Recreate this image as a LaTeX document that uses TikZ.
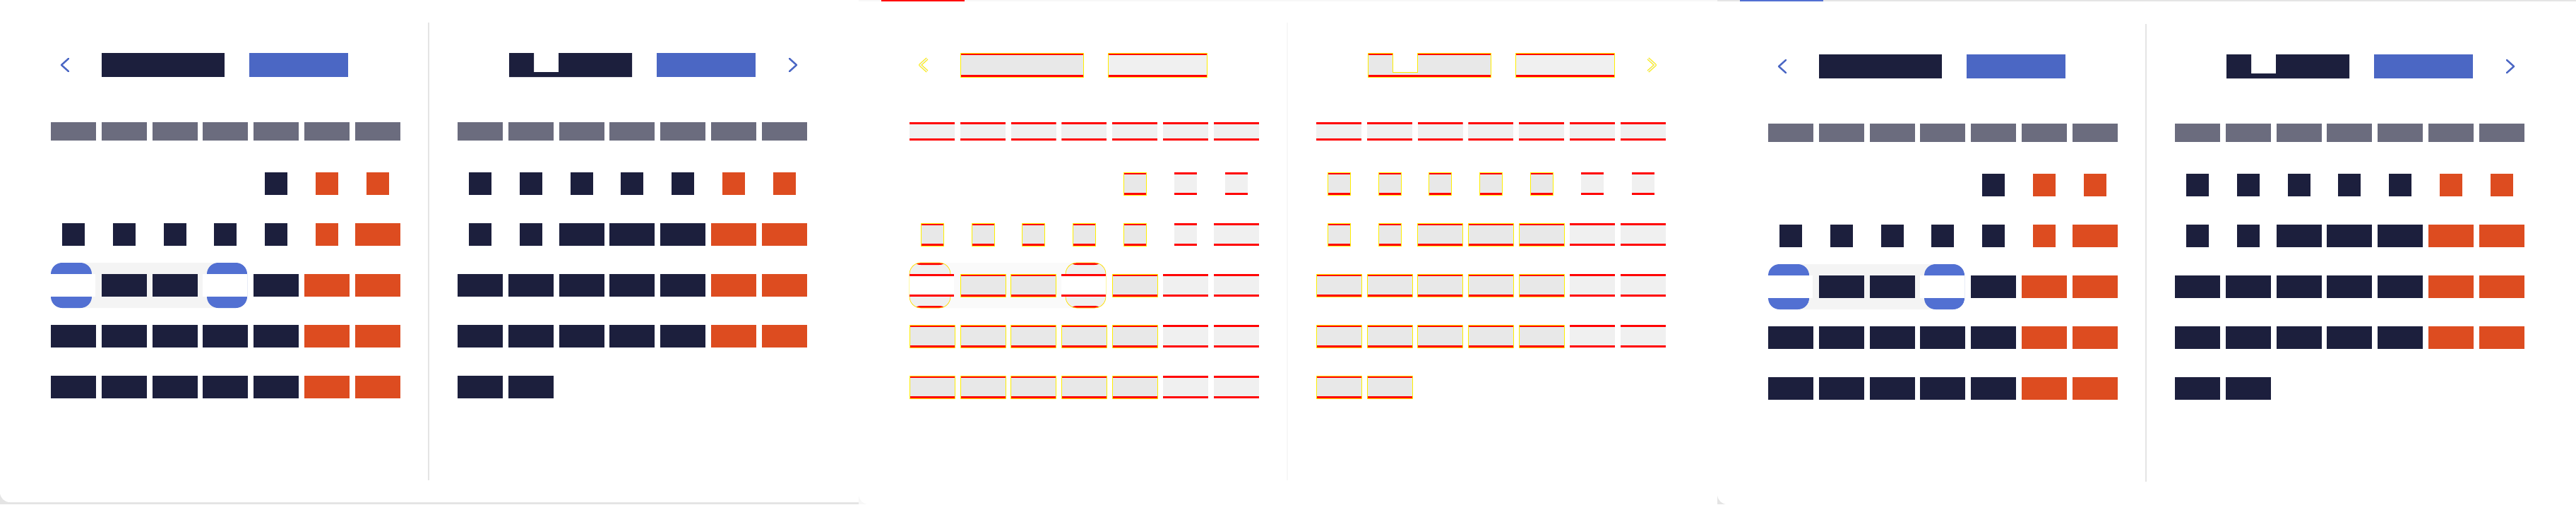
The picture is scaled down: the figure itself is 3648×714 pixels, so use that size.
\documentclass[tikz,border=0pt]{standalone}
\definecolor{navy}{HTML}{1C1F3D}
\definecolor{rust}{HTML}{DD4C20}
\definecolor{slate}{HTML}{6B6C7E}
\definecolor{tblue}{HTML}{4B67C4}
\definecolor{hblue}{HTML}{5270D2}
\definecolor{pillgray}{HTML}{F4F4F4}
\definecolor{dgray}{HTML}{E8E8E8}
\definecolor{lgray}{HTML}{F0F0F0}
\definecolor{edge}{HTML}{E4E4E4}
\definecolor{faint}{HTML}{F7F7F7}
\definecolor{diffred}{HTML}{FF0000}
\definecolor{diffyel}{HTML}{FFEE00}
\tikzset{
  redlines/.style={path picture={
    \fill[diffred] (path picture bounding box.north west) rectangle ([yshift=-0.85pt]path picture bounding box.north east);
    \fill[diffred] (path picture bounding box.south west) rectangle ([yshift=0.85pt]path picture bounding box.south east);}},
  plain/.style={
    daydark/.style={fill=navy}, dayend/.style={fill=rust}, weekhead/.style={fill=slate},
    monthbtn/.style={fill=tblue},
    navchev/.style={draw=tblue, line width=0.7pt, line cap=round, line join=round},
    pill/.style={fill=pillgray}, selend/.style={fill=hblue}, selday/.style={fill=white},
    divider/.style={draw=edge, line width=0.45pt}},
  diff/.style={
    daydark/.style={fill=dgray, draw=diffyel, line width=0.15pt, redlines},
    dayend/.style={fill=lgray, redlines},
    weekhead/.style={fill=lgray, redlines},
    monthbtn/.style={fill=lgray, draw=diffyel, line width=0.15pt, redlines},
    navchev/.style={draw=diffyel, double=lgray, line width=0.3pt, double distance=0.5pt, line join=round},
    pill/.style={fill=white!98!black}, selend/.style={fill=lgray, draw=diffyel, line width=0.2pt, redlines},
    selday/.style={fill=white, redlines},
    divider/.style={draw=faint, line width=0.45pt}}
}
\begin{document}
\begin{tikzpicture}[x=0.1mm,y=-0.1mm]
\useasboundingbox (0,0) rectangle (3648,714);
% card edges
\fill[edge] (0,690) rectangle (1216,714);
\fill[white] (0,0) -- (0,697) arc[start angle=180, end angle=90, radius=14] -- (1216,711) -- (1216,0) -- cycle;
\fill[faint] (1216,0) rectangle (2432,2);
\fill[diffred] (1248,0) rectangle (1366,2);
\fill[faint] (1216,697) rectangle (1232,714);
\fill[white] (1216,690) -- (1216,700) arc[start angle=180, end angle=90, radius=14] -- (1240,714) -- (1240,690) -- cycle;
\fill[edge] (2432,0) rectangle (3648,2);
\fill[hblue] (2464,0) rectangle (2582,2);
\fill[edge] (2432,697) rectangle (2448,714);
\fill[white] (2432,690) -- (2432,700) arc[start angle=180, end angle=90, radius=14] -- (2456,714) -- (2456,690) -- cycle;

\foreach \cx/\cy/\look in {0/0/plain,1216/0/diff,2432/2/plain}{
\begin{scope}[shift={(\cx,\cy)},\look]
% title row
\draw[navchev] (97,83) -- (87,92) -- (97,101);
\path[daydark] (144,75) rectangle (318,109);
\path[monthbtn] (353,75) rectangle (493,109);
\path[daydark] (721,75) -- (756,75) -- (756,102) -- (791,102) -- (791,75) -- (895,75) -- (895,109) -- (721,109) -- cycle;
\path[monthbtn] (930,75) rectangle (1070,109);
\draw[navchev] (1118,83) -- (1128,92) -- (1118,101);
\draw[divider] (607,32) -- (607,680);
% weekday heads
\foreach \mx in {72,648}
  \foreach \c in {0,...,6}
    \path[weekhead] ({\mx+71.8*\c},173) rectangle ++(64,26);

% left month
\path[daydark] ({72+71.8*4+16},244) rectangle ++(32,32);
\foreach \c in {5,6} \path[dayend] ({72+71.8*\c+16},244) rectangle ++(32,32);
\foreach \c in {0,...,4} \path[daydark] ({72+71.8*\c+16},316) rectangle ++(32,32);
\path[dayend] ({72+71.8*5+16},316) rectangle ++(32,32);
\path[dayend] ({72+71.8*6},316) rectangle ++(64,32);
\path[pill, rounded corners=1.6mm] (72,372) rectangle (350,436);
\path[selend, rounded corners=1.6mm] (72,372) rectangle (130,436);
\path[selend, rounded corners=1.6mm] (293,372) rectangle (350,436);
\path[selday] (72,388) rectangle (135,420);
\path[selday] (287,388) rectangle (350,420);
\foreach \c in {1,2,4} \path[daydark] ({72+71.8*\c},388) rectangle ++(64,32);
\foreach \c in {5,6} \path[dayend] ({72+71.8*\c},388) rectangle ++(64,32);
\foreach \y in {460,532}{
  \foreach \c in {0,...,4} \path[daydark] ({72+71.8*\c},\y) rectangle ++(64,32);
  \foreach \c in {5,6} \path[dayend] ({72+71.8*\c},\y) rectangle ++(64,32);
}

% right month
\foreach \c in {0,...,4} \path[daydark] ({648+71.8*\c+16},244) rectangle ++(32,32);
\foreach \c in {5,6} \path[dayend] ({648+71.8*\c+16},244) rectangle ++(32,32);
\foreach \c in {0,1} \path[daydark] ({648+71.8*\c+16},316) rectangle ++(32,32);
\foreach \c in {2,3,4} \path[daydark] ({648+71.8*\c},316) rectangle ++(64,32);
\foreach \c in {5,6} \path[dayend] ({648+71.8*\c},316) rectangle ++(64,32);
\foreach \y in {388,460}{
  \foreach \c in {0,...,4} \path[daydark] ({648+71.8*\c},\y) rectangle ++(64,32);
  \foreach \c in {5,6} \path[dayend] ({648+71.8*\c},\y) rectangle ++(64,32);
}
\foreach \c in {0,1} \path[daydark] ({648+71.8*\c},532) rectangle ++(64,32);
\end{scope}
}
\end{tikzpicture}
\end{document}
